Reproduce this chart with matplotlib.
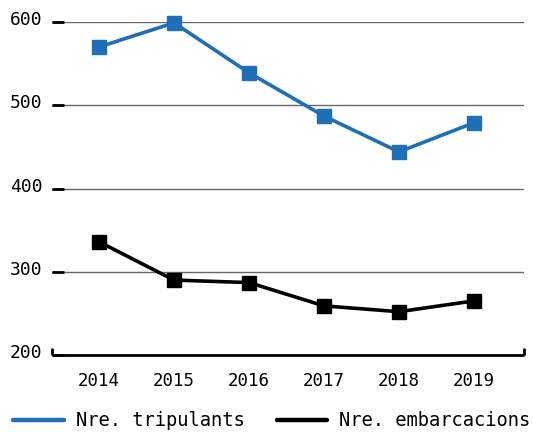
import numpy as np
import matplotlib
matplotlib.use("Agg")
import matplotlib.pyplot as plt
from matplotlib.lines import Line2D
import matplotlib.transforms as mtransforms

# data
years = [2014, 2015, 2016, 2017, 2018, 2019]
tripulants = [570, 599, 539, 487, 444, 479]
embarcacions = [336, 290, 287, 259, 252, 265]
labels = ["Nre. tripulants", "Nre. embarcacions"]

blue = "#1f6eb8"
plt.rcParams["font.family"] = "DejaVu Sans Mono"

fig = plt.figure(figsize=(5.33, 4.32), dpi=100)
ax = fig.add_axes([52 / 533, 1 - 355 / 432, 472 / 533, 333 / 432])

ax.plot(years, tripulants, color=blue, lw=2.6, marker="s", ms=9.5,
        clip_on=False, zorder=3)
ax.plot(years, embarcacions, color="black", lw=2.6, marker="s", ms=9.5,
        clip_on=False, zorder=3)

ax.set_xlim(2014 - 47 / 75, 2019 + 50 / 75)
ax.set_ylim(200, 600)
ax.set_yticks([200, 300, 400, 500, 600])
ax.set_xticks(years)
for y in [300, 400, 500, 600]:
    ax.axhline(y, color="#666666", lw=1, zorder=1)

for s in ["top", "right", "left"]:
    ax.spines[s].set_visible(False)
ax.spines["bottom"].set_linewidth(2)
ax.spines["bottom"].set_capstyle("butt")
# small upturned ends of the bottom axis
ax.plot([0, 0], [0, 0.022], transform=ax.transAxes, color="black", lw=2,
        clip_on=False, solid_capstyle="butt")
ax.plot([1, 1], [0, 0.022], transform=ax.transAxes, color="black", lw=2,
        clip_on=False, solid_capstyle="butt")

ax.tick_params(axis="y", direction="in", length=8.5, width=2, pad=7,
               labelsize=13)
ax.tick_params(axis="x", length=0, pad=12, labelsize=12.5)

# y labels sit a little above their gridlines
shift = mtransforms.ScaledTranslation(0, 4 / 100, fig.dpi_scale_trans)
for lab in ax.get_yticklabels():
    lab.set_transform(lab.get_transform() + shift)

handles = [Line2D([], [], color=blue, lw=3.2, solid_capstyle="round"),
           Line2D([], [], color="black", lw=3.2, solid_capstyle="round")]
fig.legend(handles, labels, loc="lower center", bbox_to_anchor=(0.51, -0.035),
           ncol=2, frameon=False, fontsize=13.5, handlelength=2.7,
           handletextpad=0.65, columnspacing=1.7)

fig.savefig("out.png", dpi=100)
